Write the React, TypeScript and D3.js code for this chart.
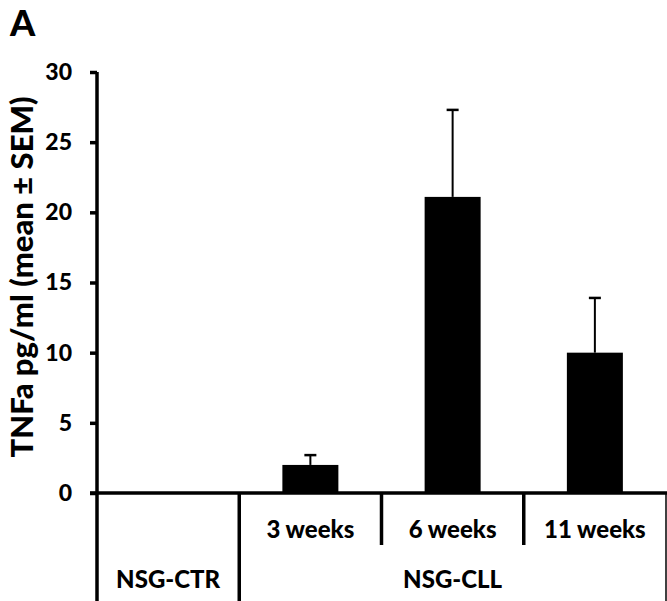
import React, { useRef, useEffect } from 'react';
import * as d3 from 'd3';

// chart data
const groups = ['NSG-CTR', '3 weeks', '6 weeks', '11 weeks'];
const weekLabels = ['', '3 weeks', '6 weeks', '11 weeks'];
const means = [0, 2.0, 21.1, 10.0];
const sems = [0, 0.7, 6.2, 3.9];
const yTicks = [0, 5, 10, 15, 20, 25, 30];
const groupLabels = ['NSG-CTR', 'NSG-CLL'];

const App = () => {
    const chartRef = useRef<SVGSVGElement>(null);

    useEffect(() => {
        const width = 667, height = 601;
        const font = "Lato, 'Open Sans', sans-serif";
        const weight = '900';

        const svg = d3.select(chartRef.current);
        svg.selectAll('*').remove();

        const x = d3.scaleBand<string>()
            .domain(groups)
            .range([97, 666])
            .padding(0);

        const y = d3.scaleLinear()
            .domain([0, 30])
            .range([493, 72]);

        // panel letter
        svg.append('text')
            .attr('x', 10)
            .attr('y', 36)
            .style('font-family', font)
            .style('font-weight', weight)
            .style('font-size', '36px')
            .text('A');

        // bars
        const barW = 56;
        svg.append('g').selectAll('rect')
            .data(groups)
            .join('rect')
            .attr('x', d => x(d)! + x.bandwidth() / 2 - barW / 2)
            .attr('width', barW)
            .attr('y', (d, i) => y(means[i]))
            .attr('height', (d, i) => y(0) - y(means[i]))
            .attr('fill', '#000');

        // error bars (upper only)
        const err = svg.append('g');
        groups.forEach((g, i) => {
            if (sems[i] <= 0) return;
            const cx = x(g)! + x.bandwidth() / 2;
            err.append('line')
                .attr('x1', cx).attr('x2', cx)
                .attr('y1', y(means[i])).attr('y2', y(means[i] + sems[i]))
                .attr('stroke', '#000').attr('stroke-width', 2);
            err.append('line')
                .attr('x1', cx - 6).attr('x2', cx + 6)
                .attr('y1', y(means[i] + sems[i])).attr('y2', y(means[i] + sems[i]))
                .attr('stroke', '#000').attr('stroke-width', 2.5);
        });

        // Y axis
        const yAxis = svg.append('g')
            .attr('transform', 'translate(97,0)')
            .call(d3.axisLeft(y).tickValues(yTicks).tickSize(7).tickPadding(18));
        yAxis.select('.domain')
            .attr('d', `M0,${y(30)}V${height}`)
            .attr('stroke-width', 3.5);
        yAxis.selectAll('.tick line').attr('stroke-width', 3.5);
        yAxis.selectAll('.tick text')
            .style('font-family', font)
            .style('font-weight', weight)
            .style('font-size', '23px')
            .attr('fill', '#000');

        // X axis line
        svg.append('line')
            .attr('x1', 90).attr('x2', width)
            .attr('y1', y(0)).attr('y2', y(0))
            .attr('stroke', '#000').attr('stroke-width', 3.5);

        // table separators
        const sep = svg.append('g').attr('stroke', '#000');
        sep.append('line')
            .attr('x1', x('3 weeks')).attr('x2', x('3 weeks'))
            .attr('y1', y(0)).attr('y2', height)
            .attr('stroke-width', 3.5);
        ['6 weeks', '11 weeks'].forEach(g => {
            sep.append('line')
                .attr('x1', x(g)).attr('x2', x(g))
                .attr('y1', y(0)).attr('y2', 545)
                .attr('stroke-width', 3.5);
        });
        sep.append('line')
            .attr('x1', 666).attr('x2', 666)
            .attr('y1', y(0)).attr('y2', height)
            .attr('stroke-width', 1.5);

        // week labels
        svg.append('g').selectAll('text')
            .data(groups)
            .join('text')
            .attr('x', d => x(d)! + x.bandwidth() / 2)
            .attr('y', 538)
            .attr('text-anchor', 'middle')
            .style('font-family', font)
            .style('font-weight', weight)
            .style('font-size', '24px')
            .text((d, i) => weekLabels[i]);

        // group labels
        const ctrX = x('NSG-CTR')! + x.bandwidth() / 2;
        const cllX = (x('3 weeks')! + 666) / 2;
        svg.append('g').selectAll('text')
            .data(groupLabels)
            .join('text')
            .attr('x', (d, i) => (i === 0 ? ctrX : cllX))
            .attr('y', 588)
            .attr('text-anchor', 'middle')
            .style('font-family', font)
            .style('font-weight', weight)
            .style('font-size', '24px')
            .text(d => d);

        // Y axis label
        svg.append('text')
            .attr('transform', 'translate(33,277) rotate(-90)')
            .attr('text-anchor', 'middle')
            .style('font-family', font)
            .style('font-weight', weight)
            .style('font-size', '31px')
            .text('TNFa pg/ml (mean ± SEM)');
    }, []);

    return (
        <svg
            ref={chartRef}
            width={667}
            height={601}
            style={{ position: 'absolute', left: 0, top: 0, background: '#fff' }}
        />
    );
};

export default App;
